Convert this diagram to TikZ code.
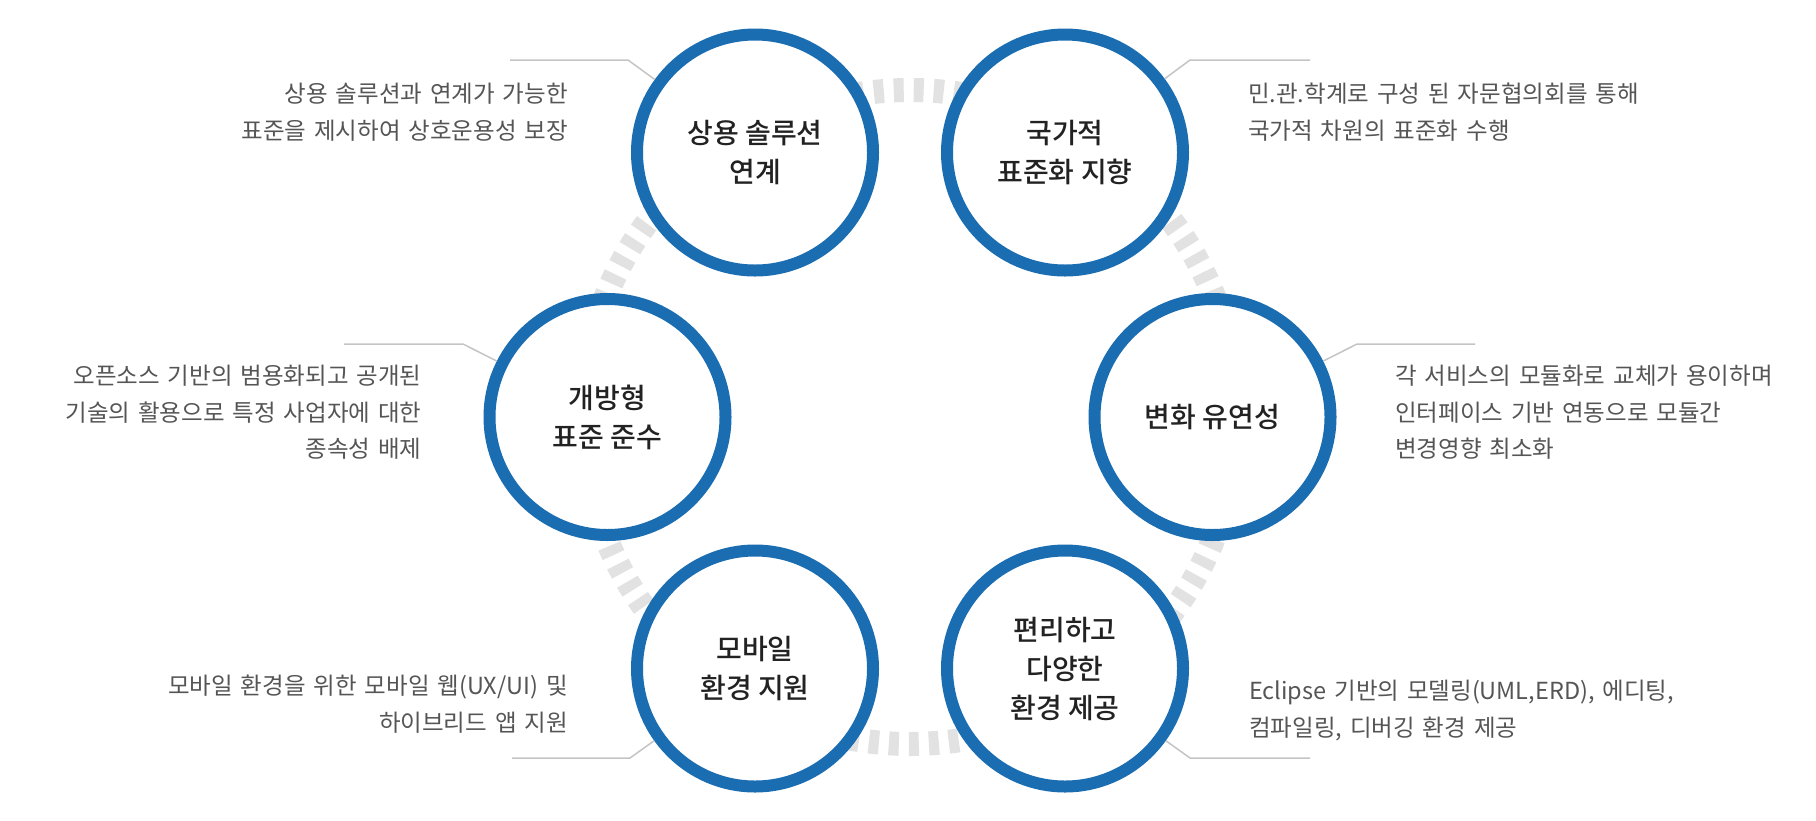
\documentclass[tikz,border=0pt]{standalone}
\usepackage{fontspec}
\setmainfont{Noto Sans CJK KR}
\IfFontExistsTF{Noto Sans CJK KR Medium}
  {\newfontfamily\circfont{Noto Sans CJK KR Medium}}
  {\newfontfamily\circfont{Noto Sans CJK KR}[FakeBold=1]}
\newfontfamily\descfont{Noto Sans CJK KR}[WordSpace=1.5]
\definecolor{ringblue}{HTML}{1B6DB2}
\definecolor{dashgray}{HTML}{E2E2E2}
\definecolor{leadgray}{HTML}{C4C4C4}
\definecolor{desctext}{HTML}{555555}
\definecolor{circtext}{HTML}{222222}
\tikzset{
  bigcirc/.style={circle, draw=ringblue, line width=12pt, fill=white,
    minimum size=236pt, inner sep=0pt, align=center, text=circtext,
    font=\circfont\fontsize{28}{39}\selectfont},
  desc/.style={inner sep=0pt, text=desctext,
    font=\descfont\fontsize{23.5}{36.5}\selectfont},
  descL/.style={desc, align=right, anchor=north east},
  descR/.style={desc, align=left, anchor=north west},
  leader/.style={draw=leadgray, line width=1.5pt},
  ringdash/.style={draw=dashgray, line width=24pt, dash pattern=on 10pt off 10pt}
}
\begin{document}
\begin{tikzpicture}[x=1pt,y=-1pt]
\useasboundingbox (0,0) rectangle (1816,820);
% dashed ring behind the circles
\draw[ringdash] (910,417) circle[radius=327pt];
% circles
\node[bigcirc] (c1) at (755,152.5) {상용 솔루션\\연계};
\node[bigcirc] (c2) at (1065,152.5) {국가적\\표준화 지향};
\node[bigcirc] (c3) at (1212.5,417) {변화 유연성};
\node[bigcirc] (c4) at (1065,668.5) {편리하고\\다양한\\환경 제공};
\node[bigcirc] (c5) at (755,668.5) {모바일\\환경 지원};
\node[bigcirc] (c6) at (607.5,417) {개방형\\표준 준수};
% descriptions
\node[descL] (d1) at (568,83) {상용 솔루션과 연계가 가능한\\표준을 제시하여 상호운용성 보장};
\node[descR] (d2) at (1248,83) {민.관.학계로 구성 된 자문협의회를 통해\\국가적 차원의 표준화 수행};
\node[descL] (d6) at (421.7,365) {오픈소스 기반의 범용화되고 공개된\\기술의 활용으로 특정 사업자에 대한\\종속성 배제};
\node[descR] (d3) at (1395,365) {각 서비스의 모듈화로 교체가 용이하며\\인터페이스 기반 연동으로 모듈간\\변경영향 최소화};
\node[descL] (d5) at (568,675) {모바일 환경을 위한 모바일 웹(UX/UI) 및\\하이브리드 앱 지원};
\node[descR] (d4) at (1249,680) {Eclipse 기반의 모델링(UML,ERD), 에디팅,\\컴파일링, 디버깅 환경 제공};
% leader lines
\coordinate (l1a) at (510,60);  \coordinate (l1b) at (628,60);
\coordinate (l2a) at (1310,60); \coordinate (l2b) at (1190,60);
\coordinate (l6a) at (344,344); \coordinate (l6b) at (463,344);
\coordinate (l3a) at (1475,344); \coordinate (l3b) at (1357,344);
\coordinate (l5a) at (512,758); \coordinate (l5b) at (630,758);
\coordinate (l4a) at (1310,758); \coordinate (l4b) at (1190,758);
\draw[leader] (l1a) -- (l1b) -- (c1);
\draw[leader] (l2a) -- (l2b) -- (c2);
\draw[leader] (l6a) -- (l6b) -- (c6);
\draw[leader] (l3a) -- (l3b) -- (c3);
\draw[leader] (l5a) -- (l5b) -- (c5);
\draw[leader] (l4a) -- (l4b) -- (c4);
\end{tikzpicture}
\end{document}
